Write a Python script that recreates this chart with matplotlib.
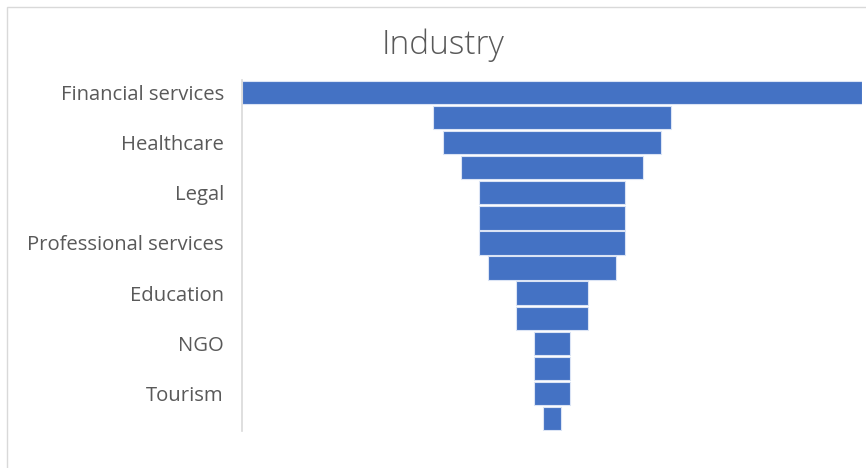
import matplotlib
matplotlib.use("Agg")
import matplotlib.pyplot as plt
from matplotlib.patches import Rectangle

# Funnel data (top to bottom); only every other label is shown in the reference
labels = ["Financial services", "", "Healthcare", "", "Legal", "",
          "Professional services", "", "Education", "", "NGO", "", "Tourism", ""]
values = [34, 13, 12, 10, 8, 8, 8, 7, 4, 4, 2, 2, 2, 1]

bar_color = "#4472C4"
text_color = "#595959"

plt.rcParams["font.family"] = ["Open Sans", "DejaVu Sans"]

fig = plt.figure(figsize=(8.66, 4.68), dpi=100)
ax = fig.add_axes([242 / 866, 1 - 431 / 468, 620 / 866, 351 / 468])

ypos = list(range(len(values)))
lefts = [-v / 2 for v in values]
ax.barh(ypos, values, left=lefts, height=0.93, color=bar_color,
        edgecolor="#dbe4f5", linewidth=0.8)

vmax = max(values)
ax.set_xlim(-vmax / 2, vmax / 2)
ax.set_ylim(len(values) - 0.5, -0.5)

ax.set_yticks(ypos)
ax.set_yticklabels(labels, fontsize=14.6, color=text_color)
ax.tick_params(axis="y", length=0, pad=13)
ax.set_xticks([])

for side in ["top", "right", "bottom"]:
    ax.spines[side].set_visible(False)
ax.spines["left"].set_color("#d9d9d9")
ax.spines["left"].set_linewidth(1.2)

fig.text(443 / 866, 1 - 45 / 468, "Industry", fontsize=24, color=text_color,
         ha="center", va="center", fontweight="light")

# chart border (cropped on the right and bottom in the reference)
fig.patches.append(Rectangle((7.5 / 866, -0.1), 1.2, 1 - 7.5 / 468 + 0.1,
                             transform=fig.transFigure, fill=False,
                             edgecolor="#d9d9d9", linewidth=1.0))

fig.savefig("out.png", dpi=100, facecolor="white")
